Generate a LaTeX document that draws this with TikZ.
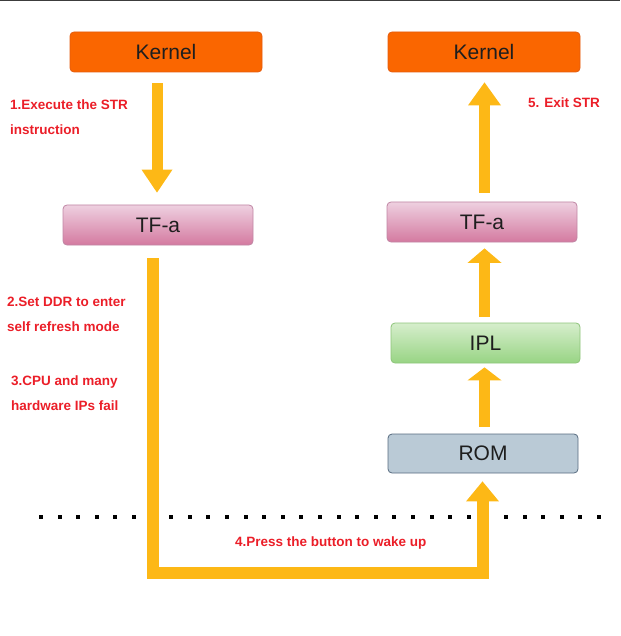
\documentclass[tikz,border=0pt]{standalone}
\usepackage{fontspec}
\setmainfont{Liberation Sans}
\usetikzlibrary{arrows.meta}

\definecolor{kernelfill}{RGB}{250,102,0}
\definecolor{kerneldraw}{RGB}{228,92,14}
\definecolor{tfatop}{RGB}{238,208,224}
\definecolor{tfabottom}{RGB}{212,122,160}
\definecolor{tfadraw}{RGB}{192,134,164}
\definecolor{ipltop}{RGB}{214,238,204}
\definecolor{iplbottom}{RGB}{152,212,132}
\definecolor{ipldraw}{RGB}{142,196,122}
\definecolor{romfill}{RGB}{186,202,214}
\definecolor{romdraw}{RGB}{88,108,128}
\definecolor{boxtext}{RGB}{30,30,30}
\definecolor{arrowfill}{RGB}{253,184,22}
\definecolor{notered}{RGB}{235,30,40}
\definecolor{topline}{RGB}{60,60,60}

\tikzset{
  stage/.style={draw, rounded corners=4pt, minimum width=190pt, minimum height=40pt,
    inner sep=0pt, line width=0.8pt, text=boxtext, font=\fontsize{21}{24}\selectfont},
  kernelbox/.style={stage, fill=kernelfill, draw=kerneldraw, minimum width=192pt},
  tfabox/.style={stage, top color=tfatop, bottom color=tfabottom, draw=tfadraw},
  iplbox/.style={stage, top color=ipltop, bottom color=iplbottom, draw=ipldraw},
  rombox/.style={stage, fill=romfill, draw=romdraw},
  bigarrow/.style={line width=11pt, draw=arrowfill, line cap=butt},
  note/.style={text=notered, font=\bfseries\fontsize{13.5}{25.5}\selectfont,
    align=left, inner sep=0pt, anchor=west},
}

\begin{document}
\begin{tikzpicture}[x=1pt, y=-1pt]
			%%%%% START %%%%%
			\useasboundingbox (0,0) rectangle (620,636);
			\draw[line width=1.5pt, topline] (0,0.75) -- (620,0.75);
			
			\node[kernelbox] (kl) at (166,52) {Kernel};
			\node[tfabox] (tl) at (158,225) {TF-a};
			
			\node[kernelbox] (kr) at (484,52) {Kernel};
			\node[tfabox] (tr) at (482,222) {TF-a};
			\node[iplbox, minimum width=189pt] (ipl) at (485.5,343) {IPL};
			\node[rombox, minimum height=39pt] (rom) at (483,453.5) {ROM};
			
			% sleep line
			\foreach \i in {0,...,30}
				\fill[black] ({41+18.6*\i-2},515) rectangle +(4,4);
			
			% entering STR
			\draw[bigarrow, -{Triangle[length=23pt,width=31pt,line width=0pt]}]
				([xshift=-1pt,yshift=-11pt]kl.south -| tl.north) -- ([xshift=-1pt,yshift=12pt]tl.north);
			
			% wake up path
			\coordinate (wake) at (482.5,572.5);
			\draw[bigarrow, line width=12pt, line join=miter, -{Triangle[length=20pt,width=33pt,line width=0pt]}]
				([xshift=-5.5pt,yshift=-13pt]tl.south) |- (wake) -- ([xshift=-0.5pt,yshift=-8pt]rom.south);
			
			% boot chain
			\draw[bigarrow, -{Triangle[length=13pt,width=34pt,line width=0pt]}]
				([xshift=1.5pt,yshift=7pt]rom.north) -- ([xshift=-1pt,yshift=-4pt]ipl.south);
			\draw[bigarrow, -{Triangle[length=14.5pt,width=34pt,line width=0pt]}]
				([xshift=-1pt,yshift=6pt]ipl.north) -- ([xshift=2.5pt,yshift=-6pt]tr.south);
			\draw[bigarrow, -{Triangle[length=23pt,width=33pt,line width=0pt]}]
				([xshift=2.5pt,yshift=9pt]tr.north) -- ([xshift=0.5pt,yshift=-10pt]kr.south);
			
			\node[note] (s1) at (10,117) {1.Execute the STR\\instruction};
			\node[note] (s2) at (7,314.5) {2.Set DDR to enter\\self refresh mode};
			\node[note] (s3) at (11,393) {3.CPU and many\\hardware IPs fail};
			\node[note] (s4) at (235,543) {4.Press the button to wake up};
			\node[note] (s5) at (528,103) {5. Exit STR};
			%%%%% END %%%%%
\end{tikzpicture}
\end{document}
